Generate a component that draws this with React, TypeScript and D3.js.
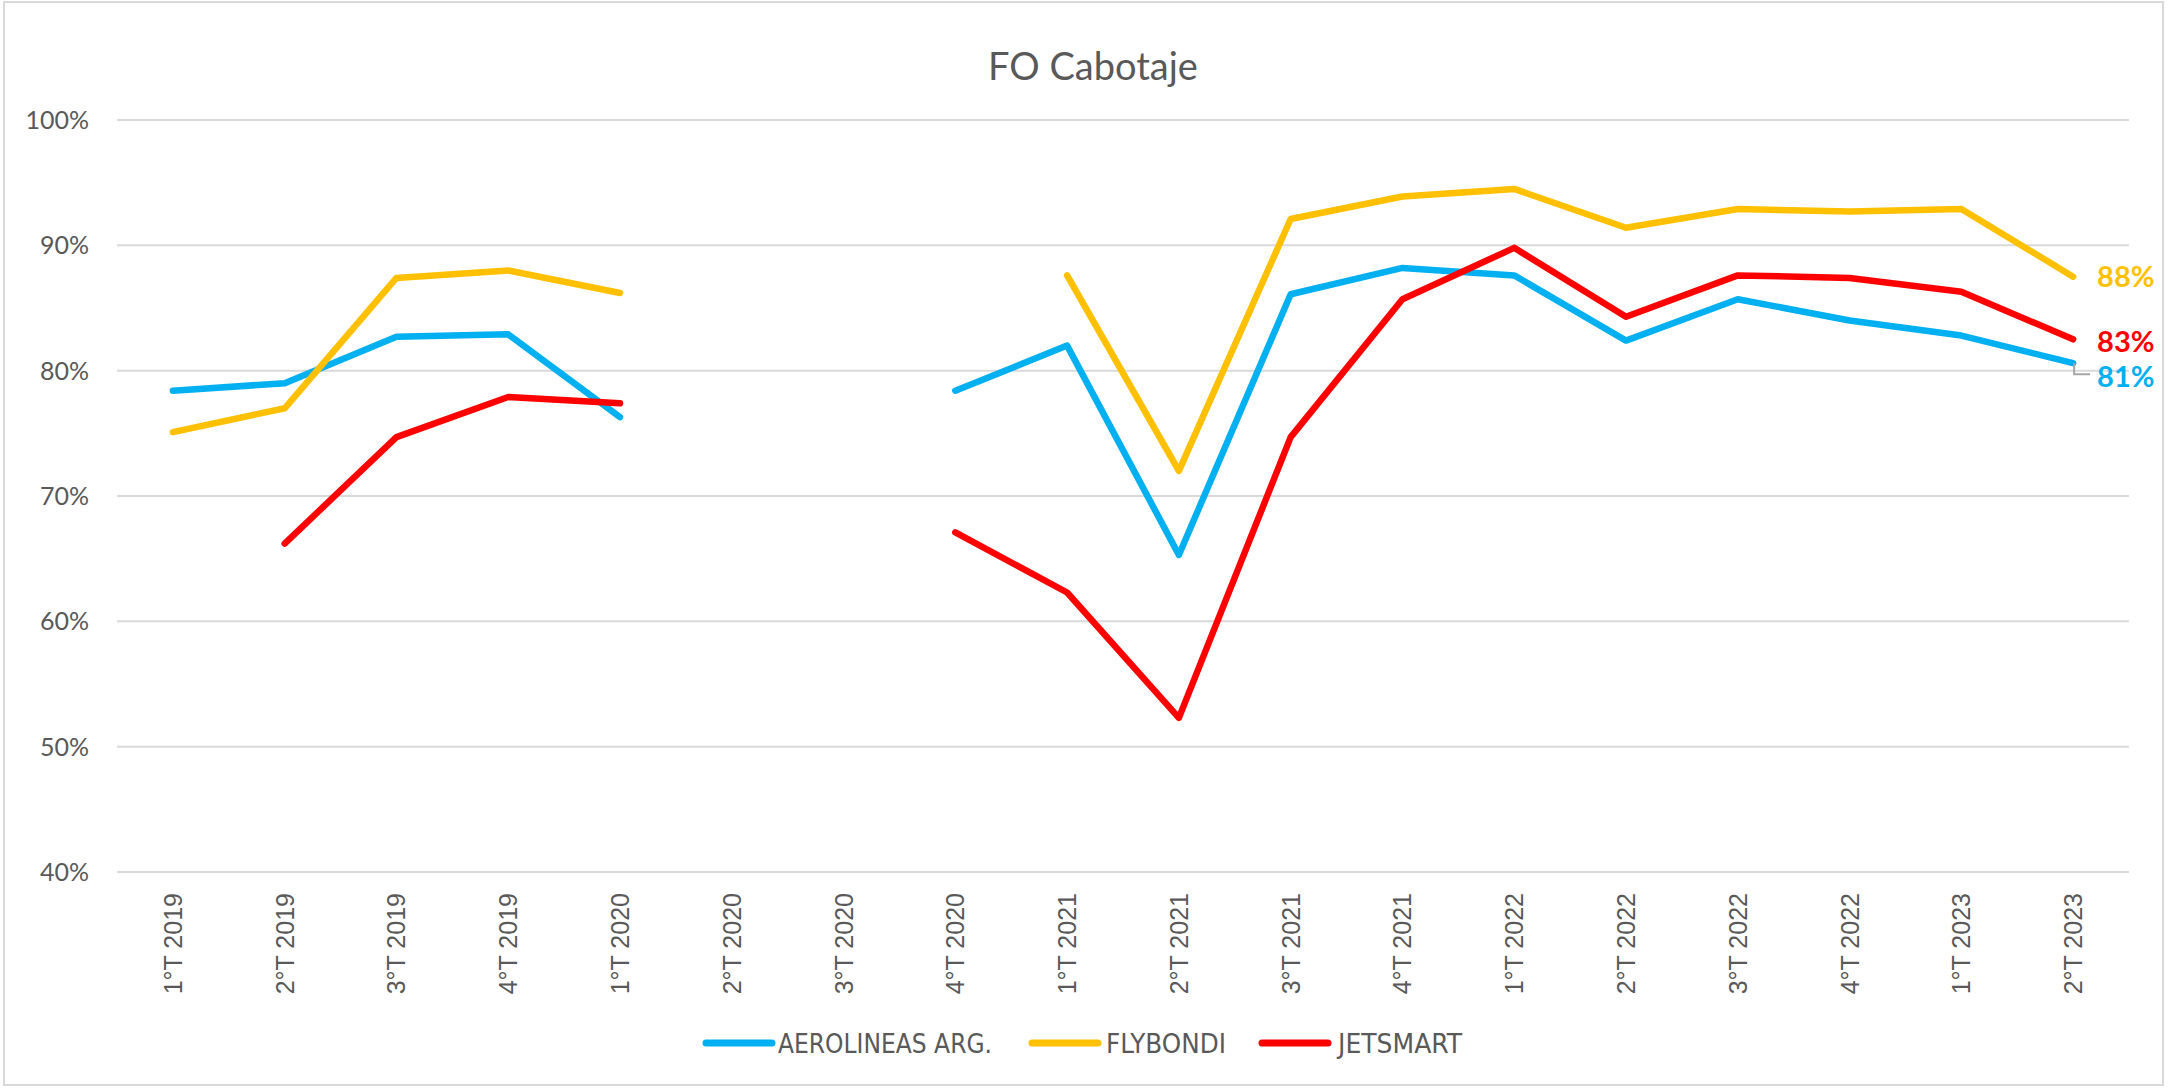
import React from "react";
import * as d3 from "d3";

const categories = ["1°T 2019", "2°T 2019", "3°T 2019", "4°T 2019", "1°T 2020", "2°T 2020", "3°T 2020", "4°T 2020", "1°T 2021", "2°T 2021", "3°T 2021", "4°T 2021", "1°T 2022", "2°T 2022", "3°T 2022", "4°T 2022", "1°T 2023", "2°T 2023"];

const aerolineas: (number | null)[] = [78.4, 79.0, 82.7, 82.9, 76.3, null, null, 78.4, 82.0, 65.3, 86.1, 88.2, 87.6, 82.4, 85.7, 84.0, 82.8, 80.6];
const flybondi: (number | null)[] = [75.1, 77.0, 87.4, 88.0, 86.2, null, null, null, 87.6, 72.0, 92.1, 93.9, 94.5, 91.4, 92.9, 92.7, 92.9, 87.5];
const jetsmart: (number | null)[] = [null, 66.2, 74.7, 77.9, 77.4, null, null, 67.1, 62.3, 52.3, 74.7, 85.7, 89.8, 84.3, 87.6, 87.4, 86.3, 82.5];

const seriesNames = ["AEROLINEAS ARG.", "FLYBONDI", "JETSMART"];
const seriesColors = ["#00B0F0", "#FFC000", "#FF0000"];
const yTicks = [40, 50, 60, 70, 80, 90, 100];
const title = "FO Cabotaje";

const W = 2179;
const H = 1089;

export default function App() {
  const x = d3.scaleBand<string>().domain(categories).range([117, 2129]);
  const y = d3.scaleLinear().domain([40, 100]).range([872, 120]);
  const cx = (c: string) => (x(c) as number) + x.bandwidth() / 2;

  const data = [aerolineas, flybondi, jetsmart];
  const line = d3
    .line<number | null>()
    .defined((d) => d != null)
    .x((_, i) => cx(categories[i]))
    .y((d) => y(d as number));

  const last = categories.length - 1;
  const labelOffsets = [13, 0, 2];
  const grey = "#595959";

  const legendItems = [
    { lx: 706, tx: 778, tl: 214 },
    { lx: 1032, tx: 1106, tl: 120 },
    { lx: 1262, tx: 1338, tl: 124 },
  ];

  return (
    <svg
      width={W}
      height={H}
      style={{ position: "absolute", left: 0, top: 0, background: "#fff" }}
    >
      <rect x={4} y={2} width={2159} height={1083} fill="#fff" stroke="#d9d9d9" strokeWidth={2} />
      <text x={1093} y={80} textAnchor="middle" fontFamily="Lato, 'Open Sans', sans-serif" fontSize={38} fill={grey}>
        {title}
      </text>
      {yTicks.map((t) => (
        <g key={t}>
          <line x1={117} x2={2129} y1={y(t)} y2={y(t)} stroke="#d9d9d9" strokeWidth={2} />
          <text x={89} y={y(t)} dy="0.36em" textAnchor="end" fontFamily="Lato, sans-serif" fontSize={25} fill={grey}>
            {t}%
          </text>
        </g>
      ))}
      {categories.map((c) => (
        <text
          key={c}
          transform={`translate(${cx(c)},893) rotate(-90)`}
          dy="0.36em"
          textAnchor="end"
          fontFamily="'Liberation Sans', Arial, sans-serif"
          fontSize={25}
          fill={grey}
        >
          {c}
        </text>
      ))}
      {data.map((s, i) => (
        <path
          key={i}
          d={line(s) || ""}
          fill="none"
          stroke={seriesColors[i]}
          strokeWidth={6.5}
          strokeLinecap="round"
          strokeLinejoin="round"
        />
      ))}
      <polyline
        points={`${cx(categories[last]) + 1},${y(aerolineas[last] as number)} ${cx(categories[last]) + 1},${y(aerolineas[last] as number) + 11} ${cx(categories[last]) + 17},${y(aerolineas[last] as number) + 11}`}
        fill="none"
        stroke="#a6a6a6"
        strokeWidth={2}
      />
      {data.map((s, i) => (
        <text
          key={"l" + i}
          x={cx(categories[last]) + 24}
          y={y(s[last] as number) + labelOffsets[i]}
          dy="0.36em"
          fontFamily="Lato, sans-serif"
          fontWeight="bold"
          fontSize={29}
          fill={seriesColors[i]}
        >
          {Math.round(s[last] as number)}%
        </text>
      ))}
      {seriesNames.map((n, i) => (
        <g key={n}>
          <line x1={legendItems[i].lx} x2={legendItems[i].lx + 66} y1={1043} y2={1043} stroke={seriesColors[i]} strokeWidth={7} strokeLinecap="round" />
          <text
            x={legendItems[i].tx}
            y={1043}
            dy="0.36em"
            fontFamily="'DejaVu Sans Condensed', 'DejaVu Sans', sans-serif"
            fontSize={27}
            fill={grey}
            textLength={legendItems[i].tl}
            lengthAdjust="spacingAndGlyphs"
          >
            {n}
          </text>
        </g>
      ))}
    </svg>
  );
}
